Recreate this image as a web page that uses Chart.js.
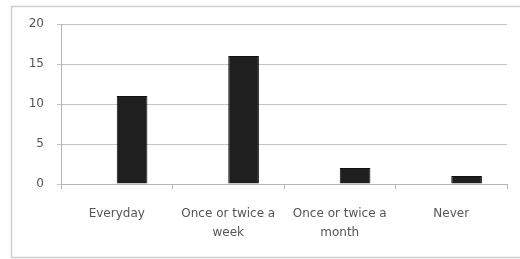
<!DOCTYPE html>
<html>
<head>
<meta charset="utf-8">
<script src="https://cdn.jsdelivr.net/npm/chart.js@4/dist/chart.umd.min.js"></script>
<style>
  html, body { margin: 0; padding: 0; background: #fff; }
  #wrap { position: relative; width: 520px; height: 259px; }
</style>
</head>
<body>
<div id="wrap"><canvas id="c"></canvas></div>
<script>
const categories = ['Everyday', ['Once or twice a', 'week'], ['Once or twice a', 'month'], 'Never'];
const counts = [11, 16, 2, 1];
const blanks = [null, null, null, null];
const yTicks = [0, 5, 10, 15, 20];

// light frame around the whole chart, like the spreadsheet chart border
const frame = {
  id: 'frame',
  beforeDraw(chart) {
    const ctx = chart.ctx;
    ctx.save();
    ctx.strokeStyle = '#cfcfcf';
    ctx.lineWidth = 1.5;
    ctx.strokeRect(11.5, 6.5, 530, 251);
    ctx.restore();
  }
};

new Chart(document.getElementById('c').getContext('2d'), {
  type: 'bar',
  data: {
    labels: categories,
    datasets: [
      { data: blanks, backgroundColor: 'rgba(0,0,0,0)' },
      {
        data: counts,
        backgroundColor: '#1f1f1f',
        borderColor: '#111111',
        borderWidth: 1,
      },
    ],
  },
  options: {
    responsive: true,
    maintainAspectRatio: false,
    animation: false,
    events: [],
    layout: { padding: { top: 24, right: 13, left: 0, bottom: 0 } },
    plugins: { legend: { display: false }, tooltip: { enabled: false } },
    datasets: { bar: { categoryPercentage: 0.55, barPercentage: 1 } },
    scales: {
      x: {
        grid: { drawOnChartArea: false, drawTicks: true, tickLength: 5, color: '#b5b5b5' },
        border: { color: '#b5b5b5' },
        ticks: {
          color: '#555',
          padding: 15,
          maxRotation: 0,
          autoSkip: false,
          font: { family: 'DejaVu Sans', size: 12, lineHeight: 1.6 },
        },
        afterFit(scale) { scale.height = 75; },
      },
      y: {
        min: 0,
        max: 20,
        afterBuildTicks(scale) { scale.ticks = yTicks.map((v) => ({ value: v })); },
        grid: { color: '#c4c4c4', tickLength: 4 },
        border: { color: '#b5b5b5' },
        ticks: {
          color: '#555',
          padding: 13,
          font: { family: 'DejaVu Sans', size: 12 },
        },
        afterFit(scale) { scale.width = 61; },
      },
    },
  },
  plugins: [frame],
});
</script>
</body>
</html>
